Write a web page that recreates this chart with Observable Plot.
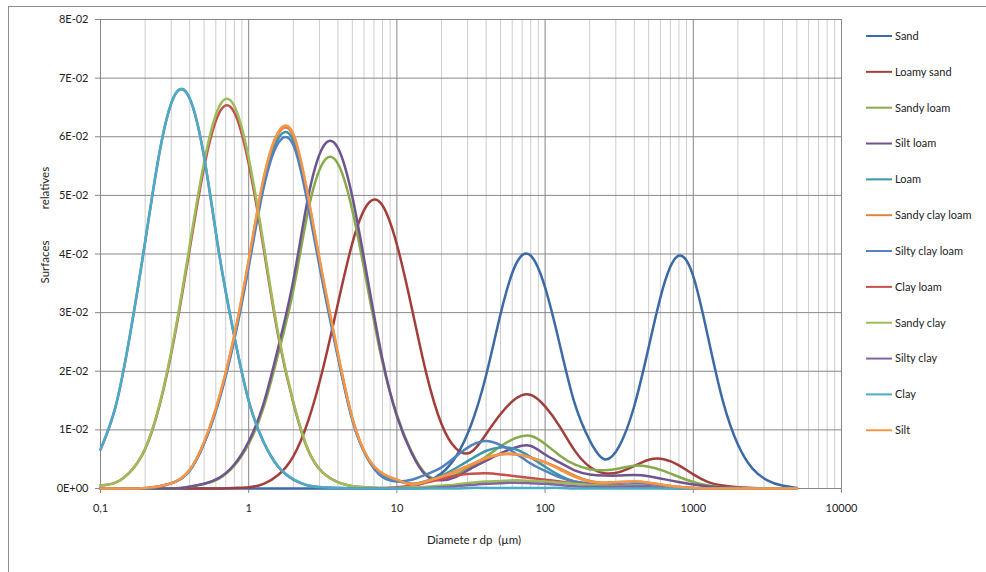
<!DOCTYPE html>
<html>
<head>
<meta charset="utf-8">
<script src="https://cdn.jsdelivr.net/npm/d3@7"></script>
<script src="https://cdn.jsdelivr.net/npm/@observablehq/plot@0.6"></script>
<style>
  html, body { margin: 0; padding: 0; background: #fff; }
  #chart { width: 986px; height: 572px; }
</style>
</head>
<body>
<div id="chart"></div>
<script>
// Diameters (µm), log-spaced sampling grid
const diam = [0.1,0.126,0.158,0.2,0.251,0.316,0.398,0.501,0.631,0.794,
  1,1.26,1.58,2,2.51,3.16,3.98,5.01,6.31,7.94,
  10,12.6,15.8,20,25.1,31.6,39.8,50.1,63.1,79.4,
  100,126,158,200,251,316,398,501,631,794,
  1000,1260,1580,2000,2510,3160,3980,5010];

const sand = [0,0,0,0,0,0,0,0,0,0,
  0,0,0,0,0,0,0,0,0,0,
  0.0001,0.0004,0.0011,0.0026,0.0055,0.0108,0.0191,0.0298,0.0381,0.0398,
  0.0343,0.0244,0.0146,0.0082,0.0050,0.0072,0.0139,0.0242,0.0346,0.0397,
  0.0362,0.0257,0.0150,0.0075,0.0034,0.0014,0.0005,0.0001];
const loamySand = [0,0,0,0,0,0,0,0,0,0.0001,
  0.0002,0.0008,0.0023,0.0055,0.0114,0.0203,0.0313,0.0419,0.0484,0.0484,
  0.0416,0.0308,0.0196,0.0110,0.0068,0.0062,0.0092,0.0127,0.0153,0.0160,
  0.0140,0.0105,0.0065,0.0037,0.0026,0.0028,0.0038,0.0049,0.0050,0.0040,
  0.0024,0.0011,0.0005,0.0002,0.0001,0,0,0];
const sandyLoam = [0,0,0,0,0,0,0.0003,0.0008,0.0017,0.0038,
  0.0076,0.0138,0.0229,0.0338,0.0472,0.0555,0.0555,0.0474,0.0346,0.0218,
  0.0126,0.0062,0.0024,0.0016,0.0024,0.0038,0.0054,0.0072,0.0086,0.0090,
  0.0076,0.0056,0.0041,0.0033,0.0031,0.0034,0.0039,0.0037,0.0030,0.0020,
  0.0011,0.0005,0.0002,0.0001,0,0,0,0];
const siltLoam = [0,0,0,0,0,0,0.0003,0.0008,0.0018,0.0040,
  0.0080,0.0145,0.0240,0.0355,0.0495,0.0582,0.0582,0.0497,0.0361,0.0224,
  0.0123,0.0060,0.0022,0.0014,0.0020,0.0034,0.0047,0.0060,0.0070,0.0073,
  0.0058,0.0044,0.0031,0.0024,0.0022,0.0022,0.0023,0.0021,0.0016,0.0011,
  0.0007,0.0004,0.0002,0.0001,0,0,0,0];
const loam = [0,0,0,0,0.0004,0.0011,0.0030,0.0078,0.0152,0.0253,
  0.0383,0.0519,0.0597,0.0594,0.0491,0.0356,0.0229,0.0118,0.0053,0.0024,
  0.0013,0.0008,0.0013,0.0022,0.0035,0.0050,0.0064,0.0070,0.0067,0.0054,
  0.0037,0.0022,0.0012,0.0007,0.0005,0.0005,0.0005,0.0004,0.0002,0.0001,
  0,0,0,0,0,0,0,0];
const sandyClayLoam = [0,0,0,0.0001,0.0004,0.0011,0.0031,0.0079,0.0154,0.0257,
  0.0388,0.0527,0.0605,0.0602,0.0498,0.0360,0.0232,0.0119,0.0054,0.0026,
  0.0015,0.0008,0.0012,0.0019,0.0029,0.0040,0.0051,0.0058,0.0058,0.0053,
  0.0045,0.0034,0.0022,0.0013,0.0010,0.0011,0.0012,0.0010,0.0006,0.0003,
  0.0001,0,0,0,0,0,0,0];
const siltyClayLoam = [0,0,0,0,0.0004,0.0011,0.0030,0.0077,0.0150,0.0250,
  0.0378,0.0512,0.0589,0.0586,0.0484,0.0350,0.0226,0.0116,0.0052,0.0020,
  0.0012,0.0015,0.0024,0.0036,0.0055,0.0073,0.0081,0.0074,0.0060,0.0043,
  0.0030,0.0019,0.0012,0.0009,0.0009,0.0010,0.0010,0.0008,0.0005,0.0002,
  0.0001,0,0,0,0,0,0,0];
const clayLoam = [0.0005,0.0010,0.0028,0.0067,0.0143,0.0259,0.0405,0.0549,0.0640,0.0643,
  0.0554,0.0410,0.0261,0.0146,0.0066,0.0027,0.0011,0.0004,0.0002,0.0001,
  0.0002,0.0005,0.0010,0.0016,0.0022,0.0025,0.0026,0.0024,0.0021,0.0018,
  0.0015,0.0012,0.0009,0.0007,0.0006,0.0005,0.0004,0.0003,0.0002,0.0001,
  0,0,0,0,0,0,0,0];
const sandyClay = [0.0005,0.0010,0.0028,0.0068,0.0145,0.0263,0.0412,0.0558,0.0651,0.0654,
  0.0564,0.0417,0.0265,0.0148,0.0067,0.0027,0.0011,0.0004,0.0002,0.0001,
  0.0001,0.0002,0.0003,0.0005,0.0007,0.0010,0.0012,0.0013,0.0014,0.0013,
  0.0012,0.0010,0.0008,0.0006,0.0005,0.0004,0.0003,0.0002,0.0001,0.0001,
  0,0,0,0,0,0,0,0];
const siltyClay = [0.0066,0.0138,0.0261,0.0420,0.0575,0.0670,0.0666,0.0564,0.0401,0.0263,
  0.0149,0.0079,0.0037,0.0015,0.0005,0.0002,0.0001,0,0,0,
  0,0,0.0001,0.0002,0.0004,0.0006,0.0008,0.0009,0.0010,0.0009,
  0.0008,0.0006,0.0004,0.0003,0.0003,0.0003,0.0003,0.0002,0.0001,0,
  0,0,0,0,0,0,0,0];
const clay = [0.0067,0.0139,0.0262,0.0421,0.0576,0.0671,0.0667,0.0565,0.0402,0.0264,
  0.0150,0.0080,0.0038,0.0016,0.0005,0.0002,0.0001,0,0,0,
  0,0,0,0,0,0.0001,0.0001,0.0001,0.0001,0.0001,
  0.0001,0.0001,0,0,0,0,0,0,0,0,
  0,0,0,0,0,0,0,0];
const silt = [0,0,0,0.0001,0.0004,0.0011,0.0031,0.0080,0.0155,0.0258,
  0.0390,0.0529,0.0608,0.0605,0.0500,0.0362,0.0233,0.0120,0.0054,0.0026,
  0.0015,0.0007,0.0012,0.0020,0.0030,0.0041,0.0052,0.0059,0.0059,0.0053,
  0.0044,0.0032,0.0020,0.0012,0.0010,0.0011,0.0012,0.0010,0.0006,0.0003,
  0.0001,0,0,0,0,0,0,0];

const seriesNames = ["Sand","Loamy sand","Sandy loam","Silt loam","Loam","Sandy clay loam",
  "Silty clay loam","Clay loam","Sandy clay","Silty clay","Clay","Silt"];
const seriesValues = [sand, loamySand, sandyLoam, siltLoam, loam, sandyClayLoam,
  siltyClayLoam, clayLoam, sandyClay, siltyClay, clay, silt];
const seriesColors = ["#3C6AA6","#A23E3B","#89AA4B","#6E5590","#3B96AE","#E2833D",
  "#4F82BE","#C5504D","#9DBD5A","#8266A4","#4BACC6","#F79646"];

const xMajor = [0.1,1,10,100,1000,10000];
const xTickLabels = ["0,1","1","10","100","1000","10000"];
const xMinor = [0.2,0.3,0.4,0.5,0.6,0.7,0.8,0.9,2,3,4,5,6,7,8,9,
  20,30,40,50,60,70,80,90,200,300,400,500,600,700,800,900,
  2000,3000,4000,5000,6000,7000,8000,9000];
const yTicks = [0,0.01,0.02,0.03,0.04,0.05,0.06,0.07,0.08];
const yTickLabels = ["0E+00","1E-02","2E-02","3E-02","4E-02","5E-02","6E-02","7E-02","8E-02"];

const gridMajor = "#878787";
const gridMinor = "#cdcdcd";

const lineMarks = seriesNames.map((name, k) =>
  Plot.line(diam.map((d, i) => ({d, v: seriesValues[k][i], name})), {
    x: "d", y: "v", stroke: seriesColors[k], strokeWidth: 2.5, curve: "natural"
  })
);

const chart = Plot.plot({
  width: 986,
  height: 572,
  marginLeft: 100,
  marginRight: 145,
  marginTop: 19,
  marginBottom: 84,
  x: {type: "log", domain: [0.1, 10000]},
  y: {domain: [0, 0.08]},
  style: {fontFamily: "Lato, sans-serif", fontSize: "11px", background: "#fff", color: "#222"},
  marks: [
    Plot.ruleX(xMinor, {stroke: gridMinor, strokeWidth: 1}),
    Plot.ruleX(xMajor, {stroke: gridMajor, strokeWidth: 1}),
    Plot.ruleY(yTicks, {stroke: gridMajor, strokeWidth: 1}),
    Plot.axisY({ticks: yTicks, tickFormat: v => yTickLabels[yTicks.indexOf(v)], tickSize: 5, tickPadding: 7,
      stroke: gridMajor, fill: "#222", label: null}),
    Plot.axisX({ticks: xMajor, tickFormat: v => xTickLabels[xMajor.indexOf(v)], tickSize: 5, tickPadding: 11,
      stroke: gridMajor, fill: "#222", label: null}),
    ...lineMarks
  ]
});

document.getElementById("chart").appendChild(chart);

const svg = d3.select(chart);
// outer chart border (top and left edges)
svg.append("line").attr("x1", 8).attr("x2", 986).attr("y1", 6.5).attr("y2", 6.5)
  .attr("stroke", "#8c8c8c").attr("stroke-width", 1);
svg.append("line").attr("x1", 8.5).attr("x2", 8.5).attr("y1", 6).attr("y2", 572)
  .attr("stroke", "#8c8c8c").attr("stroke-width", 1);

// legend
const lg = svg.append("g").attr("font-family", "Lato, sans-serif").attr("font-size", 11)
  .attr("fill", "#222").attr("text-anchor", "start");
seriesNames.forEach((name, i) => {
  const y = 36 + i * 35.84;
  lg.append("line").attr("x1", 866).attr("x2", 892).attr("y1", y).attr("y2", y)
    .attr("stroke", seriesColors[i]).attr("stroke-width", 2);
  lg.append("text").attr("x", 895).attr("y", y).attr("dy", "0.35em")
    .attr("text-anchor", "start").text(name);
});

// axis titles
svg.append("text").attr("x", 474).attr("y", 540).attr("dy", "0.35em")
  .attr("text-anchor", "middle").attr("font-family", "Lato, sans-serif").attr("font-size", 11.5)
  .attr("fill", "#222").style("white-space", "pre").text("Diamete r dp  (µm)");
svg.append("text").attr("transform", "translate(45,262) rotate(-90)").attr("dy", "0.35em")
  .attr("text-anchor", "middle").attr("font-family", "Lato, sans-serif").attr("font-size", 11.5)
  .attr("fill", "#222").text("Surfaces");
svg.append("text").attr("transform", "translate(45,188) rotate(-90)").attr("dy", "0.35em")
  .attr("text-anchor", "middle").attr("font-family", "Lato, sans-serif").attr("font-size", 11.5)
  .attr("fill", "#222").text("relatives");
</script>
</body>
</html>
